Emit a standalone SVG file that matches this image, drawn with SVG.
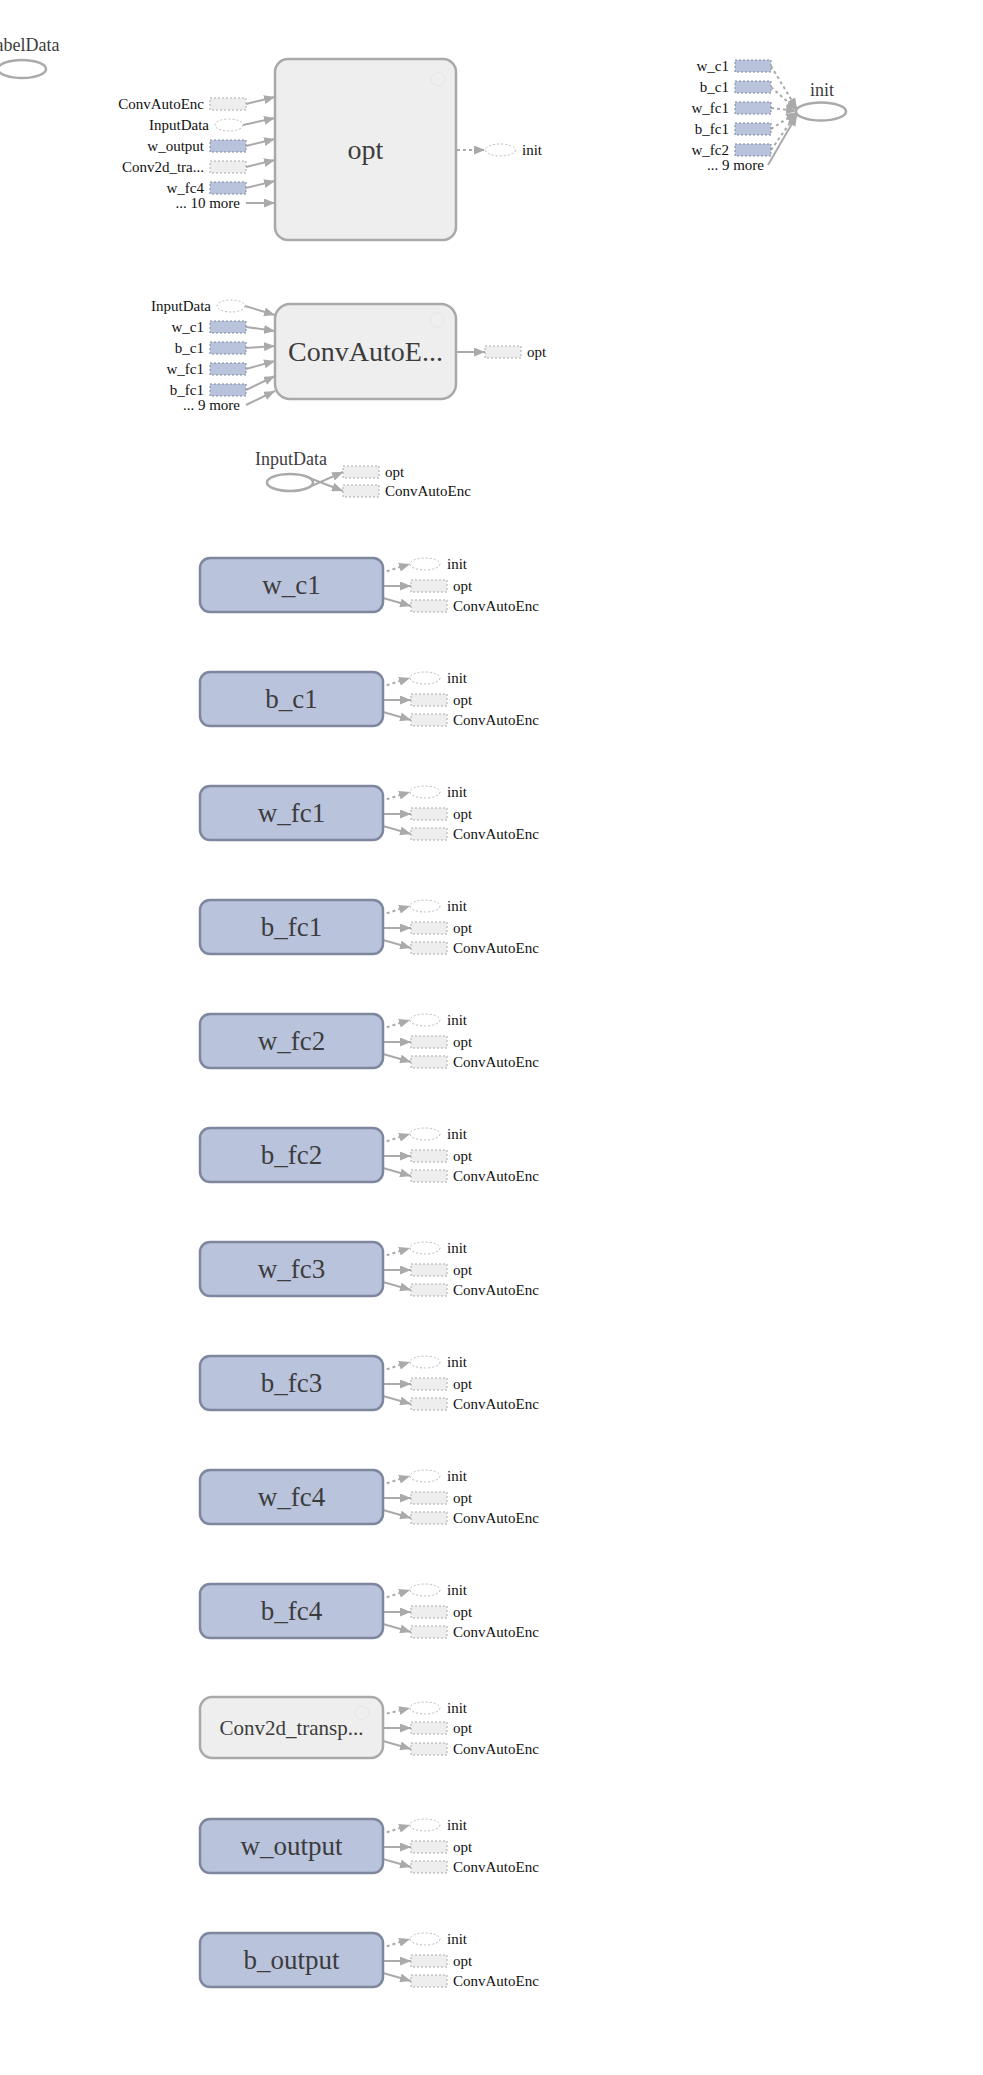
<svg xmlns="http://www.w3.org/2000/svg" width="983" height="2075" viewBox="0 0 983 2075">
<defs>
<style>
.nl{font-family:"Liberation Serif",serif;fill:#3c3c3c;text-anchor:middle}
.al{font-family:"Liberation Serif",serif;font-size:15px;fill:#111}
.ar{text-anchor:end}
.e{stroke:#aaaaaa;stroke-width:2;fill:none}
.d{stroke-dasharray:3,3}
.gbox{fill:#eeeeee;stroke:#a9a9a9;stroke-width:2.5}
.bbox{fill:#b9c3dc;stroke:#7e879d;stroke-width:2.5}
.ell{fill:#ffffff;stroke:#aaaaaa;stroke-width:2.5}
.ga{fill:#eeeeee;stroke:#aaaaaa;stroke-width:1;stroke-dasharray:2,2}
.ba{fill:#b9c3dc;stroke:#7e879d;stroke-width:1;stroke-dasharray:2,2}
.ea{fill:#ffffff;stroke:#bbbbbb;stroke-width:1;stroke-dasharray:2,2}
.btn{fill:none;stroke:#e6e6e6;stroke-width:1}
.bl{font-size:27px}
</style>
<marker id="ah" markerUnits="userSpaceOnUse" markerWidth="11" markerHeight="9" refX="11" refY="4.5" orient="auto">
<path d="M0,0 L11,4.5 L0,9 z" fill="#aaaaaa"/>
</marker>
</defs>
<rect width="983" height="2075" fill="#ffffff"/>

<g id="connectors">
<!-- opt inputs -->
<line class="e" x1="246" y1="104" x2="275" y2="97" marker-end="url(#ah)"/>
<line class="e" x1="243" y1="125" x2="275" y2="118" marker-end="url(#ah)"/>
<line class="e" x1="246" y1="146" x2="275" y2="139" marker-end="url(#ah)"/>
<line class="e" x1="246" y1="167" x2="275" y2="160" marker-end="url(#ah)"/>
<line class="e" x1="246" y1="188" x2="275" y2="181" marker-end="url(#ah)"/>
<line class="e" x1="246" y1="203" x2="275" y2="203" marker-end="url(#ah)"/>
<line class="e d" x1="457" y1="150" x2="485" y2="150" marker-end="url(#ah)"/>
<!-- init inputs -->
<line class="e d" x1="771" y1="66" x2="797" y2="109" marker-end="url(#ah)"/>
<line class="e d" x1="771" y1="87" x2="797" y2="110" marker-end="url(#ah)"/>
<line class="e d" x1="771" y1="108" x2="797" y2="111" marker-end="url(#ah)"/>
<line class="e d" x1="771" y1="129" x2="797" y2="112" marker-end="url(#ah)"/>
<line class="e d" x1="771" y1="150" x2="797" y2="113" marker-end="url(#ah)"/>
<line class="e" x1="768" y1="165" x2="797" y2="115" marker-end="url(#ah)"/>
<!-- ConvAutoEnc inputs -->
<line class="e" x1="245" y1="306" x2="275" y2="315" marker-end="url(#ah)"/>
<line class="e" x1="246" y1="327" x2="275" y2="331" marker-end="url(#ah)"/>
<line class="e" x1="246" y1="348" x2="275" y2="346" marker-end="url(#ah)"/>
<line class="e" x1="246" y1="369" x2="275" y2="361" marker-end="url(#ah)"/>
<line class="e" x1="246" y1="390" x2="275" y2="376" marker-end="url(#ah)"/>
<line class="e" x1="246" y1="405" x2="275" y2="391" marker-end="url(#ah)"/>
<line class="e" x1="457" y1="352" x2="485" y2="352" marker-end="url(#ah)"/>
<!-- InputData outputs -->
<line class="e" x1="307" y1="488" x2="343" y2="472" marker-end="url(#ah)"/>
<line class="e" x1="307" y1="477" x2="343" y2="491" marker-end="url(#ah)"/>
</g>

<g id="node-LabelData">
<ellipse class="ell" cx="22" cy="69" rx="24" ry="9"/>
<text class="nl" x="22" y="51" font-size="18">LabelData</text>
</g>

<g id="node-opt">
<rect class="gbox" x="275" y="59" width="181" height="181" rx="13"/>
<circle class="btn" cx="438" cy="79" r="7"/>
<text class="nl" x="365.5" y="159" font-size="28">opt</text>
<rect class="ga" x="210" y="98" width="36" height="12"/>
<text class="al ar" x="204" y="109">ConvAutoEnc</text>
<ellipse class="ea" cx="229" cy="125" rx="14" ry="6"/>
<text class="al ar" x="209" y="130">InputData</text>
<rect class="ba" x="210" y="140" width="36" height="12"/>
<text class="al ar" x="204" y="151">w_output</text>
<rect class="ga" x="210" y="161" width="36" height="12"/>
<text class="al ar" x="204" y="172">Conv2d_tra...</text>
<rect class="ba" x="210" y="182" width="36" height="12"/>
<text class="al ar" x="204" y="193">w_fc4</text>
<text class="al ar" x="240" y="208">... 10 more</text>
<ellipse class="ea" cx="500.5" cy="150" rx="15" ry="6"/>
<text class="al" x="522" y="155">init</text>
</g>

<g id="node-init">
<ellipse class="ell" cx="821" cy="111.5" rx="25" ry="9"/>
<text class="nl" x="822" y="96" font-size="18">init</text>
<rect class="ba" x="735" y="60" width="36" height="12"/>
<text class="al ar" x="729" y="71">w_c1</text>
<rect class="ba" x="735" y="81" width="36" height="12"/>
<text class="al ar" x="729" y="92">b_c1</text>
<rect class="ba" x="735" y="102" width="36" height="12"/>
<text class="al ar" x="729" y="113">w_fc1</text>
<rect class="ba" x="735" y="123" width="36" height="12"/>
<text class="al ar" x="729" y="134">b_fc1</text>
<rect class="ba" x="735" y="144" width="36" height="12"/>
<text class="al ar" x="729" y="155">w_fc2</text>
<text class="al ar" x="764" y="170">... 9 more</text>
</g>

<g id="node-ConvAutoEnc">
<rect class="gbox" x="275" y="304" width="181" height="95" rx="15"/>
<circle class="btn" cx="437" cy="320" r="7"/>
<text class="nl" x="365.5" y="361" font-size="28">ConvAutoE...</text>
<ellipse class="ea" cx="231" cy="306" rx="14" ry="6"/>
<text class="al ar" x="211" y="311">InputData</text>
<rect class="ba" x="210" y="321" width="36" height="12"/>
<text class="al ar" x="204" y="332">w_c1</text>
<rect class="ba" x="210" y="342" width="36" height="12"/>
<text class="al ar" x="204" y="353">b_c1</text>
<rect class="ba" x="210" y="363" width="36" height="12"/>
<text class="al ar" x="204" y="374">w_fc1</text>
<rect class="ba" x="210" y="384" width="36" height="12"/>
<text class="al ar" x="204" y="395">b_fc1</text>
<text class="al ar" x="240" y="410">... 9 more</text>
<rect class="ga" x="485" y="346" width="36" height="12"/>
<text class="al" x="527" y="357">opt</text>
</g>

<g id="node-InputData">
<ellipse class="ell" cx="290" cy="482.5" rx="23" ry="8.5"/>
<text class="nl" x="291" y="465" font-size="18">InputData</text>
<rect class="ga" x="343" y="466" width="36" height="12"/>
<text class="al" x="385" y="477">opt</text>
<rect class="ga" x="343" y="485" width="36" height="12"/>
<text class="al" x="385" y="496">ConvAutoEnc</text>
</g>

<g id="node-w_c1" transform="translate(0,558)">
<line class="e d" x1="381" y1="15" x2="410" y2="6" marker-end="url(#ah)"/>
<line class="e" x1="383" y1="28" x2="411" y2="28" marker-end="url(#ah)"/>
<line class="e" x1="383" y1="40" x2="411" y2="48" marker-end="url(#ah)"/>
<rect class="bbox" x="200" y="0" width="183" height="54" rx="10"/>
<text class="nl bl" x="291.5" y="36">w_c1</text>
<ellipse class="ea" cx="425" cy="6" rx="15" ry="6"/><text class="al" x="447" y="11">init</text>
<rect class="ga" x="411" y="22" width="36" height="12"/><text class="al" x="453" y="33">opt</text>
<rect class="ga" x="411" y="42" width="36" height="12"/><text class="al" x="453" y="53">ConvAutoEnc</text>
</g>

<g id="node-b_c1" transform="translate(0,672)">
<line class="e d" x1="381" y1="15" x2="410" y2="6" marker-end="url(#ah)"/>
<line class="e" x1="383" y1="28" x2="411" y2="28" marker-end="url(#ah)"/>
<line class="e" x1="383" y1="40" x2="411" y2="48" marker-end="url(#ah)"/>
<rect class="bbox" x="200" y="0" width="183" height="54" rx="10"/>
<text class="nl bl" x="291.5" y="36">b_c1</text>
<ellipse class="ea" cx="425" cy="6" rx="15" ry="6"/><text class="al" x="447" y="11">init</text>
<rect class="ga" x="411" y="22" width="36" height="12"/><text class="al" x="453" y="33">opt</text>
<rect class="ga" x="411" y="42" width="36" height="12"/><text class="al" x="453" y="53">ConvAutoEnc</text>
</g>

<g id="node-w_fc1" transform="translate(0,786)">
<line class="e d" x1="381" y1="15" x2="410" y2="6" marker-end="url(#ah)"/>
<line class="e" x1="383" y1="28" x2="411" y2="28" marker-end="url(#ah)"/>
<line class="e" x1="383" y1="40" x2="411" y2="48" marker-end="url(#ah)"/>
<rect class="bbox" x="200" y="0" width="183" height="54" rx="10"/>
<text class="nl bl" x="291.5" y="36">w_fc1</text>
<ellipse class="ea" cx="425" cy="6" rx="15" ry="6"/><text class="al" x="447" y="11">init</text>
<rect class="ga" x="411" y="22" width="36" height="12"/><text class="al" x="453" y="33">opt</text>
<rect class="ga" x="411" y="42" width="36" height="12"/><text class="al" x="453" y="53">ConvAutoEnc</text>
</g>

<g id="node-b_fc1" transform="translate(0,900)">
<line class="e d" x1="381" y1="15" x2="410" y2="6" marker-end="url(#ah)"/>
<line class="e" x1="383" y1="28" x2="411" y2="28" marker-end="url(#ah)"/>
<line class="e" x1="383" y1="40" x2="411" y2="48" marker-end="url(#ah)"/>
<rect class="bbox" x="200" y="0" width="183" height="54" rx="10"/>
<text class="nl bl" x="291.5" y="36">b_fc1</text>
<ellipse class="ea" cx="425" cy="6" rx="15" ry="6"/><text class="al" x="447" y="11">init</text>
<rect class="ga" x="411" y="22" width="36" height="12"/><text class="al" x="453" y="33">opt</text>
<rect class="ga" x="411" y="42" width="36" height="12"/><text class="al" x="453" y="53">ConvAutoEnc</text>
</g>

<g id="node-w_fc2" transform="translate(0,1014)">
<line class="e d" x1="381" y1="15" x2="410" y2="6" marker-end="url(#ah)"/>
<line class="e" x1="383" y1="28" x2="411" y2="28" marker-end="url(#ah)"/>
<line class="e" x1="383" y1="40" x2="411" y2="48" marker-end="url(#ah)"/>
<rect class="bbox" x="200" y="0" width="183" height="54" rx="10"/>
<text class="nl bl" x="291.5" y="36">w_fc2</text>
<ellipse class="ea" cx="425" cy="6" rx="15" ry="6"/><text class="al" x="447" y="11">init</text>
<rect class="ga" x="411" y="22" width="36" height="12"/><text class="al" x="453" y="33">opt</text>
<rect class="ga" x="411" y="42" width="36" height="12"/><text class="al" x="453" y="53">ConvAutoEnc</text>
</g>

<g id="node-b_fc2" transform="translate(0,1128)">
<line class="e d" x1="381" y1="15" x2="410" y2="6" marker-end="url(#ah)"/>
<line class="e" x1="383" y1="28" x2="411" y2="28" marker-end="url(#ah)"/>
<line class="e" x1="383" y1="40" x2="411" y2="48" marker-end="url(#ah)"/>
<rect class="bbox" x="200" y="0" width="183" height="54" rx="10"/>
<text class="nl bl" x="291.5" y="36">b_fc2</text>
<ellipse class="ea" cx="425" cy="6" rx="15" ry="6"/><text class="al" x="447" y="11">init</text>
<rect class="ga" x="411" y="22" width="36" height="12"/><text class="al" x="453" y="33">opt</text>
<rect class="ga" x="411" y="42" width="36" height="12"/><text class="al" x="453" y="53">ConvAutoEnc</text>
</g>

<g id="node-w_fc3" transform="translate(0,1242)">
<line class="e d" x1="381" y1="15" x2="410" y2="6" marker-end="url(#ah)"/>
<line class="e" x1="383" y1="28" x2="411" y2="28" marker-end="url(#ah)"/>
<line class="e" x1="383" y1="40" x2="411" y2="48" marker-end="url(#ah)"/>
<rect class="bbox" x="200" y="0" width="183" height="54" rx="10"/>
<text class="nl bl" x="291.5" y="36">w_fc3</text>
<ellipse class="ea" cx="425" cy="6" rx="15" ry="6"/><text class="al" x="447" y="11">init</text>
<rect class="ga" x="411" y="22" width="36" height="12"/><text class="al" x="453" y="33">opt</text>
<rect class="ga" x="411" y="42" width="36" height="12"/><text class="al" x="453" y="53">ConvAutoEnc</text>
</g>

<g id="node-b_fc3" transform="translate(0,1356)">
<line class="e d" x1="381" y1="15" x2="410" y2="6" marker-end="url(#ah)"/>
<line class="e" x1="383" y1="28" x2="411" y2="28" marker-end="url(#ah)"/>
<line class="e" x1="383" y1="40" x2="411" y2="48" marker-end="url(#ah)"/>
<rect class="bbox" x="200" y="0" width="183" height="54" rx="10"/>
<text class="nl bl" x="291.5" y="36">b_fc3</text>
<ellipse class="ea" cx="425" cy="6" rx="15" ry="6"/><text class="al" x="447" y="11">init</text>
<rect class="ga" x="411" y="22" width="36" height="12"/><text class="al" x="453" y="33">opt</text>
<rect class="ga" x="411" y="42" width="36" height="12"/><text class="al" x="453" y="53">ConvAutoEnc</text>
</g>

<g id="node-w_fc4" transform="translate(0,1470)">
<line class="e d" x1="381" y1="15" x2="410" y2="6" marker-end="url(#ah)"/>
<line class="e" x1="383" y1="28" x2="411" y2="28" marker-end="url(#ah)"/>
<line class="e" x1="383" y1="40" x2="411" y2="48" marker-end="url(#ah)"/>
<rect class="bbox" x="200" y="0" width="183" height="54" rx="10"/>
<text class="nl bl" x="291.5" y="36">w_fc4</text>
<ellipse class="ea" cx="425" cy="6" rx="15" ry="6"/><text class="al" x="447" y="11">init</text>
<rect class="ga" x="411" y="22" width="36" height="12"/><text class="al" x="453" y="33">opt</text>
<rect class="ga" x="411" y="42" width="36" height="12"/><text class="al" x="453" y="53">ConvAutoEnc</text>
</g>

<g id="node-b_fc4" transform="translate(0,1584)">
<line class="e d" x1="381" y1="15" x2="410" y2="6" marker-end="url(#ah)"/>
<line class="e" x1="383" y1="28" x2="411" y2="28" marker-end="url(#ah)"/>
<line class="e" x1="383" y1="40" x2="411" y2="48" marker-end="url(#ah)"/>
<rect class="bbox" x="200" y="0" width="183" height="54" rx="10"/>
<text class="nl bl" x="291.5" y="36">b_fc4</text>
<ellipse class="ea" cx="425" cy="6" rx="15" ry="6"/><text class="al" x="447" y="11">init</text>
<rect class="ga" x="411" y="22" width="36" height="12"/><text class="al" x="453" y="33">opt</text>
<rect class="ga" x="411" y="42" width="36" height="12"/><text class="al" x="453" y="53">ConvAutoEnc</text>
</g>

<g id="node-Conv2d_transpose" transform="translate(0,1697)">
<line class="e d" x1="381" y1="18" x2="410" y2="11" marker-end="url(#ah)"/>
<line class="e" x1="383" y1="31" x2="411" y2="31" marker-end="url(#ah)"/>
<line class="e" x1="383" y1="44" x2="411" y2="52" marker-end="url(#ah)"/>
<rect class="gbox" x="200" y="0" width="183" height="61" rx="12"/>
<circle class="btn" cx="362" cy="16" r="7"/>
<text class="nl" x="291.5" y="38" font-size="21">Conv2d_transp...</text>
<ellipse class="ea" cx="425" cy="11" rx="15" ry="6"/><text class="al" x="447" y="16">init</text>
<rect class="ga" x="411" y="25" width="36" height="12"/><text class="al" x="453" y="36">opt</text>
<rect class="ga" x="411" y="46" width="36" height="12"/><text class="al" x="453" y="57">ConvAutoEnc</text>
</g>

<g id="node-w_output" transform="translate(0,1819)">
<line class="e d" x1="381" y1="15" x2="410" y2="6" marker-end="url(#ah)"/>
<line class="e" x1="383" y1="28" x2="411" y2="28" marker-end="url(#ah)"/>
<line class="e" x1="383" y1="40" x2="411" y2="48" marker-end="url(#ah)"/>
<rect class="bbox" x="200" y="0" width="183" height="54" rx="10"/>
<text class="nl bl" x="291.5" y="36">w_output</text>
<ellipse class="ea" cx="425" cy="6" rx="15" ry="6"/><text class="al" x="447" y="11">init</text>
<rect class="ga" x="411" y="22" width="36" height="12"/><text class="al" x="453" y="33">opt</text>
<rect class="ga" x="411" y="42" width="36" height="12"/><text class="al" x="453" y="53">ConvAutoEnc</text>
</g>

<g id="node-b_output" transform="translate(0,1933)">
<line class="e d" x1="381" y1="15" x2="410" y2="6" marker-end="url(#ah)"/>
<line class="e" x1="383" y1="28" x2="411" y2="28" marker-end="url(#ah)"/>
<line class="e" x1="383" y1="40" x2="411" y2="48" marker-end="url(#ah)"/>
<rect class="bbox" x="200" y="0" width="183" height="54" rx="10"/>
<text class="nl bl" x="291.5" y="36">b_output</text>
<ellipse class="ea" cx="425" cy="6" rx="15" ry="6"/><text class="al" x="447" y="11">init</text>
<rect class="ga" x="411" y="22" width="36" height="12"/><text class="al" x="453" y="33">opt</text>
<rect class="ga" x="411" y="42" width="36" height="12"/><text class="al" x="453" y="53">ConvAutoEnc</text>
</g>
</svg>
